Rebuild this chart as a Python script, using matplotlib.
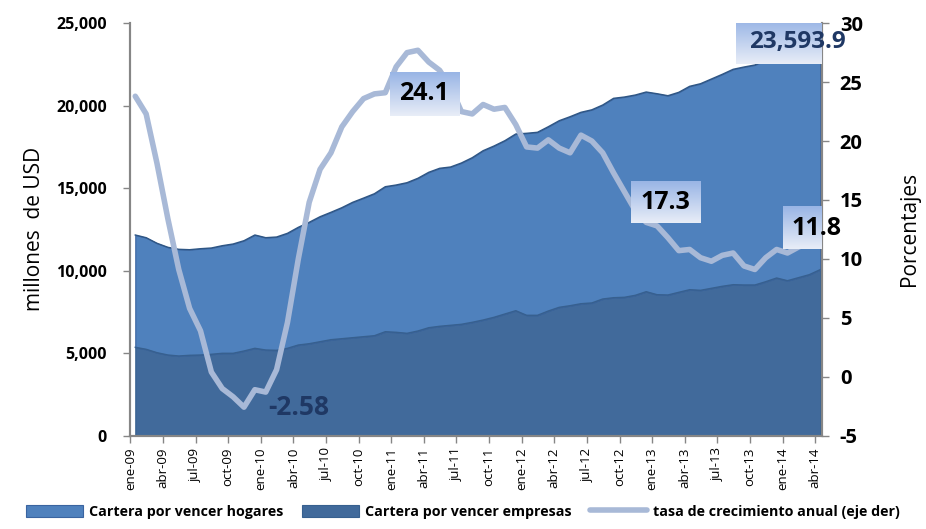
import matplotlib.pyplot as plt
import numpy as np

plt.rcParams['font.family'] = ['Open Sans', 'DejaVu Sans']

# monthly series, ene-09 .. abr-14 (millones de USD and %)
meses = ['ene', 'feb', 'mar', 'abr', 'may', 'jun', 'jul', 'ago', 'sep', 'oct', 'nov', 'dic']
fechas = [f"{m}-{a:02d}" for a in range(9, 15) for m in meses][:64]

empresas = [5357, 5236, 5030, 4890, 4830, 4872, 4890, 4933, 4993, 4993, 5133, 5296,
            5193, 5175, 5296, 5496, 5575, 5696, 5818, 5878, 5939, 6000, 6060, 6302,
            6266, 6205, 6345, 6545, 6630, 6690, 6751, 6872, 7011, 7175, 7375, 7575,
            7296, 7296, 7557, 7781, 7878, 7999, 8045, 8284, 8363, 8387, 8508, 8727,
            8545, 8527, 8690, 8848, 8811, 8932, 9054, 9151, 9133, 9133, 9333, 9557,
            9393, 9575, 9757, 10060]

hogares = [6806, 6764, 6630, 6527, 6466, 6400, 6442, 6442, 6521, 6624, 6684, 6867,
           6807, 6866, 6969, 7133, 7357, 7575, 7720, 7939, 8205, 8400, 8605, 8788,
           8927, 9128, 9255, 9418, 9575, 9593, 9775, 9976, 10261, 10381, 10503, 10708,
           11030, 11091, 11169, 11309, 11454, 11599, 11705, 11756, 12083, 12138, 12138, 12101,
           12180, 12077, 12120, 12325, 12520, 12684, 12846, 13053, 13210, 13332, 13434, 13393,
           13707, 13675, 13663, 13533.9]

tasa = [23.8, 22.3, 18.1, 13.4, 9.1, 5.8, 3.9, 0.4, -1.0, -1.7, -2.58, -1.1,
        -1.3, 0.6, 4.6, 10.0, 14.8, 17.6, 19.0, 21.2, 22.5, 23.6, 24.0, 24.1,
        26.3, 27.5, 27.7, 26.7, 26.0, 24.6, 22.5, 22.3, 23.1, 22.7, 22.85, 21.4,
        19.5, 19.4, 20.1, 19.4, 19.0, 20.5, 20.0, 19.0, 17.3, 15.7, 14.1, 13.1,
        12.8, 11.8, 10.7, 10.8, 10.1, 9.8, 10.3, 10.5, 9.4, 9.1, 10.1, 10.8,
        10.5, 11.0, 11.4, 11.8]

x = np.arange(len(fechas))
empresas = np.array(empresas)
hogares = np.array(hogares)
total = empresas + hogares

c_hog = '#4F81BD'
c_emp = '#416A9B'
c_line = '#A8B9D7'
c_axis = '#868686'

fig = plt.figure(figsize=(9.26, 5.29), dpi=100)
ax = fig.add_axes([0.1408, 0.1764, 0.7466, 0.7798])
ax2 = ax.twinx()

ax.fill_between(x, 0, empresas, facecolor=c_emp, edgecolor='#37608F', lw=0.8,
                label='Cartera por vencer empresas')
ax.fill_between(x, empresas, total, facecolor=c_hog, edgecolor='#3A64A0', lw=0.8,
                label='Cartera por vencer hogares')
ax.plot(x, empresas, color='#37608F', lw=1)
ax.plot(x, total, color='#2E5685', lw=1)

ax2.plot(x, tasa, color=c_line, lw=4, solid_joinstyle='round', solid_capstyle='round',
         label='tasa de crecimiento anual (eje der)')

tick_pos = np.arange(0, 64, 3) - 0.45
ax.set_xticks(tick_pos)
ax.set_xticklabels(fechas[::3], rotation=90, fontsize=9.5)
ax.set_yticks(np.arange(0, 25001, 5000))
ax.set_yticklabels([f"{v:,}" for v in range(0, 25001, 5000)], fontsize=11.5, fontweight='bold')
ax2.set_yticks(np.arange(-5, 31, 5))
ax2.set_yticklabels([str(v) for v in range(-5, 31, 5)], fontsize=14.5, fontweight='bold')

for a in (ax, ax2):
    a.spines['top'].set_visible(False)
    for s in ('left', 'right', 'bottom'):
        a.spines[s].set_color(c_axis)
        a.spines[s].set_linewidth(1.5)
ax.tick_params(axis='both', colors=c_axis, labelcolor='black', length=5, width=1)
ax.tick_params(axis='y', pad=12)
ax2.tick_params(axis='y', colors=c_axis, labelcolor='black', length=5, width=1, pad=8)

ax.set_ylabel('millones  de USD', fontsize=15, labelpad=8)
ax2.set_ylabel('Porcentajes', fontsize=15, labelpad=26, rotation=90)


def caja(axis, cx, cy, w, h, texto, color, size=18):
    # label with a vertical gradient box behind it
    grad = np.linspace(0, 1, 50).reshape(-1, 1)
    top = np.array([0.60, 0.71, 0.90])
    bot = np.array([0.91, 0.93, 0.97])
    img = top + (bot - top) * grad[:, :, None]
    axis.imshow(img, extent=[cx - w / 2, cx + w / 2, cy - h / 2, cy + h / 2],
                origin='upper', aspect='auto', zorder=5)
    axis.text(cx, cy, texto, ha='center', va='center', fontsize=size,
              fontweight='bold', color=color, zorder=6)


caja(ax2, 26.6, 24.0, 6.35, 3.7, f"{tasa[23]:.1f}", 'black')
caja(ax2, 48.8, 14.8, 6.35, 3.55, f"{tasa[44]:.1f}", 'black')
caja(ax2, 62.7, 12.6, 6.2, 3.6, f"{tasa[63]:.1f}", 'black')
caja(ax2, 60.9, 28.4, 11.2, 3.7, f"{total[-1]:,.1f}", '#1F3864', size=17.5)
ax2.text(15.0, -2.64, f"{tasa[10]:.2f}", ha='center', va='center', fontsize=19,
         fontweight='bold', color='#1F3864', zorder=6)

ax.set_xlim(-0.45, 63.15)
ax.set_ylim(0, 25000)
ax2.set_xlim(-0.45, 63.15)
ax2.set_ylim(-5, 30)

h1, l1 = ax.get_legend_handles_labels()
h2, l2 = ax2.get_legend_handles_labels()
handles = [h1[1], h1[0], h2[0]]
labels = [l1[1], l1[0], l2[0]]
fig.legend(handles, labels, loc='lower center', bbox_to_anchor=(0.5, -0.005), ncol=3,
           frameon=False, prop={'weight': 'bold', 'size': 10.3}, handlelength=4.0,
           handleheight=0.9, columnspacing=1.3, handletextpad=0.4)

fig.savefig('out.png', dpi=100)
